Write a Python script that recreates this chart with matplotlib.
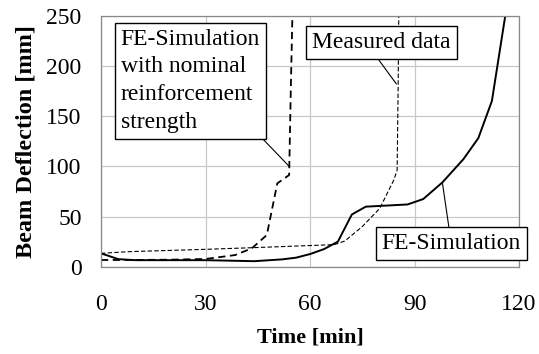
import matplotlib
matplotlib.use("Agg")
import matplotlib.pyplot as plt

# FE-Simulation (solid, thick)
fe_t = [0, 5, 10, 20, 30, 44, 52, 56, 60, 64, 68, 72, 76, 88, 92.5, 98, 104, 108.3, 112.2, 116, 117]
fe_v = [13.3, 7.5, 6.5, 6.5, 6.5, 5.5, 7.3, 9.0, 12.6, 17.5, 25, 52, 59.8, 62, 67.4, 84, 107, 128, 165, 249, 265]

# FE-Simulation with nominal reinforcement strength (dashed, thick)
nom_t = [0, 10, 20, 30, 38.5, 43.3, 47.6, 50.6, 54, 54.5, 55]
nom_v = [6.7, 6.7, 7.0, 7.7, 11.6, 18.3, 31.6, 83, 91.3, 180, 260]

# Measured data (dashed, thin)
mea_t = [0, 8, 30, 44, 67, 70, 75, 80, 84, 85, 85.3, 85.5]
mea_v = [13.3, 15, 17.3, 19, 22, 25.6, 40, 58, 86, 96, 182, 260]

xticks = [0, 30, 60, 90, 120]
yticks = [0, 50, 100, 150, 200, 250]

plt.rcParams['font.family'] = ['Liberation Serif', 'DejaVu Serif']

fig = plt.figure(figsize=(5.39, 3.54), dpi=100)
ax = fig.add_axes([0.1874, 0.2466, 0.7756, 0.709])

ax.plot(fe_t, fe_v, color='black', lw=1.4, solid_capstyle='butt')
ax.plot(nom_t, nom_v, color='black', lw=1.3, dashes=(4, 2.5))
ax.plot(mea_t, mea_v, color='black', lw=0.8, dashes=(4, 2))

ax.set_xlim(0, 120)
ax.set_ylim(0, 250)
ax.set_xticks(xticks)
ax.set_yticks(yticks)
ax.tick_params(length=0, labelsize=17)
ax.tick_params(axis='x', pad=20)
ax.tick_params(axis='y', pad=14)
ax.grid(True, color='#c8c8c8', lw=0.9)
ax.set_axisbelow(True)
for s in ax.spines.values():
    s.set_color('#888888')
    s.set_linewidth(0.9)

ax.set_xlabel('Time [min]', fontsize=16, fontweight='bold', labelpad=9)
ax.set_ylabel('Beam Deflection [mm]', fontsize=17.5, fontweight='bold', labelpad=7)

box = dict(boxstyle='square,pad=0.25', fc='white', ec='black', lw=1.0)
arrow = dict(arrowstyle='-', lw=0.8, color='black', shrinkA=0, shrinkB=0)

ax.annotate('FE-Simulation\nwith nominal\nreinforcement\nstrength', xy=(54, 100), xycoords='data',
            xytext=(0.0467, 0.948), textcoords='axes fraction', ha='left', va='top',
            fontsize=17, linespacing=1.42, bbox=box, arrowprops=dict(arrow, relpos=(0.98, 0)))
ax.annotate('Measured data', xy=(84.8, 182), xycoords='data',
            xytext=(0.505, 0.934), textcoords='axes fraction', ha='left', va='top',
            fontsize=17, bbox=box, arrowprops=dict(arrow, relpos=(0.446, 0)))
ax.annotate('FE-Simulation', xy=(98, 83.6), xycoords='data',
            xytext=(0.671, 0.1335), textcoords='axes fraction', ha='left', va='top',
            fontsize=17, bbox=box, arrowprops=dict(arrow, relpos=(0.49, 1)))

fig.savefig('out.png', dpi=100)
